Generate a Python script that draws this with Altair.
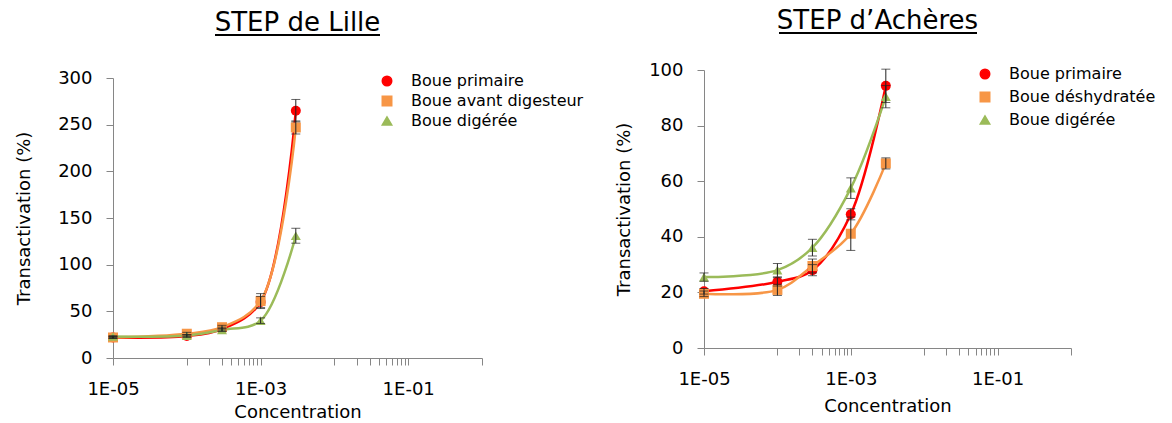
import altair as alt
import pandas as pd

# ---------------- data ----------------
conc = [1e-5, 1e-4, 3e-4, 1e-3, 3e-3]

lille_series = ["Boue primaire", "Boue avant digesteur", "Boue digérée"]
lille_primaire = [22, 23.5, 31, 60, 265]
lille_primaire_err = [1, 1.5, 2, 6, 12]
lille_avant = [22, 26, 33, 61, 247]
lille_avant_err = [1, 1.5, 2, 8, 7]
lille_digeree = [23, 24, 30, 40, 131]
lille_digeree_err = [1, 1, 1.5, 3, 8]

acheres_series = ["Boue primaire", "Boue déshydratée", "Boue digérée"]
acheres_primaire = [20.4, 23.8, 28, 48.1, 94.3]
acheres_primaire_err = [1, 1.5, 2, 2, 6]
acheres_deshydratee = [19.5, 20.9, 29.5, 41.1, 66.4]
acheres_deshydratee_err = [1, 2, 2.5, 6, 2]
acheres_digeree = [25.5, 28, 36.1, 57.5, 90.4]
acheres_digeree_err = [1.5, 2.4, 3, 3.7, 4]

colors = ["#FF0000", "#F79646", "#9BBB59"]
shapes = ["circle", "square", "triangle-up"]

x_ticks = [1e-5, 1e-4, 2e-4, 3e-4, 4e-4, 5e-4, 6e-4, 7e-4, 8e-4, 9e-4,
           1e-3, 1e-2, 2e-2, 3e-2, 4e-2, 5e-2, 6e-2, 7e-2, 8e-2, 9e-2, 1e-1, 1.0]

FONT = "DejaVu Sans"
AXIS_GRAY = "#868686"


def make_df(series, values, errs):
    rows = []
    for s, vals, es in zip(series, values, errs):
        for c, v, e in zip(conc, vals, es):
            rows.append({"conc": c, "value": v, "lo": v - e, "hi": v + e, "series": s})
    return pd.DataFrame(rows)


def panel(df, series, ymax, ystep, width, height, yrange, ytitle_pad, xtitle_pad,
          title, title_pos, ul, legend_x, legend_y, legend_row_pad):
    lab = ("abs(log(datum.value)/LN10 - round(log(datum.value)/LN10)) < 0.01 && "
           "round(log(datum.value)/LN10) % 2 != 0 ? '1E-0' + (-round(log(datum.value)/LN10)) : ''")
    xenc = alt.X("conc:Q",
                 scale=alt.Scale(type="log", domain=[1e-5, 1], nice=False),
                 axis=alt.Axis(values=x_ticks, labelExpr=lab, title="Concentration",
                               grid=False, tickSize=7, labelPadding=15,
                               labelFlush=False, labelOverlap=False,
                               domainColor=AXIS_GRAY, tickColor=AXIS_GRAY,
                               labelFont=FONT, labelFontSize=18, labelColor="black",
                               titleFont=FONT, titleFontSize=18, titleFontWeight="normal",
                               titleColor="black", titlePadding=xtitle_pad))
    yenc = alt.Y("value:Q",
                 scale=alt.Scale(domain=[0, ymax], nice=False, range=yrange),
                 axis=alt.Axis(values=list(range(0, ymax + 1, ystep)),
                               title="Transactivation (%)", grid=False, tickSize=7,
                               labelPadding=14, labelOverlap=False,
                               domainColor=AXIS_GRAY, tickColor=AXIS_GRAY,
                               labelFont=FONT, labelFontSize=18, labelColor="black",
                               titleFont=FONT, titleFontSize=18, titleFontWeight="normal",
                               titleColor="black", titlePadding=ytitle_pad))
    base = alt.Chart(df).encode(x=xenc, y=yenc)

    col = alt.Color("series:N", scale=alt.Scale(domain=series, range=colors),
                    legend=alt.Legend(title=None, orient="none", legendX=legend_x,
                                      legendY=legend_y, labelFont=FONT, labelFontSize=16,
                                      labelColor="black", symbolSize=90,
                                      rowPadding=legend_row_pad,
                                      labelOffset=16, symbolOpacity=1, labelLimit=400))
    shp = alt.Shape("series:N", scale=alt.Scale(domain=series, range=shapes))

    lines = base.mark_line(strokeWidth=2.5, interpolate="catmull-rom").encode(
        color=col, detail="series:N")
    err = base.mark_rule(color="#222222", strokeWidth=1).encode(y="lo:Q", y2="hi:Q")
    cap_lo = base.mark_tick(color="#222222", thickness=1, size=9, orient="horizontal").encode(y="lo:Q")
    cap_hi = base.mark_tick(color="#222222", thickness=1, size=9, orient="horizontal").encode(y="hi:Q")
    pts = base.mark_point(filled=True, size=100, opacity=1).encode(color=col, shape=shp)

    deco = alt.Chart(pd.DataFrame({"a": [0]}))
    title_txt = deco.mark_text(font=FONT, fontSize=26, color="black", align="center",
                               baseline="alphabetic").encode(
        x=alt.value(title_pos[0]), y=alt.value(title_pos[1]), text=alt.value(title))
    underline = deco.mark_rule(color="black", strokeWidth=2).encode(
        x=alt.value(ul[0]), x2=alt.value(ul[1]), y=alt.value(ul[2]))

    return alt.layer(lines, pts, err, cap_lo, cap_hi, title_txt, underline).properties(
        width=width, height=height)


df_l = make_df(lille_series, [lille_primaire, lille_avant, lille_digeree],
               [lille_primaire_err, lille_avant_err, lille_digeree_err])
df_a = make_df(acheres_series, [acheres_primaire, acheres_deshydratee, acheres_digeree],
               [acheres_primaire_err, acheres_deshydratee_err, acheres_digeree_err])

# both panels share the same top origin (y=69 in the page); the left plot starts 8px lower
left = panel(df_l, lille_series, 300, 50, 369, 288, [288, 8], 24, 5, "STEP de Lille",
             (184.5, -39), (102, 267, -35), 266, 3, 4)
right = panel(df_a, acheres_series, 100, 10, 367, 278, [278, 0], 15, 9, "STEP d\u2019Achères",
              (173.5, -41), (75, 273, -37), 273, -4, 7)

chart = alt.hconcat(left, right, spacing=31).resolve_scale(
    color="independent", shape="independent"
).configure_view(stroke=None).properties(padding={"left": 7, "top": 0, "right": 0, "bottom": 0})

chart.save("out.html", embed_options={"renderer": "svg", "actions": False})
